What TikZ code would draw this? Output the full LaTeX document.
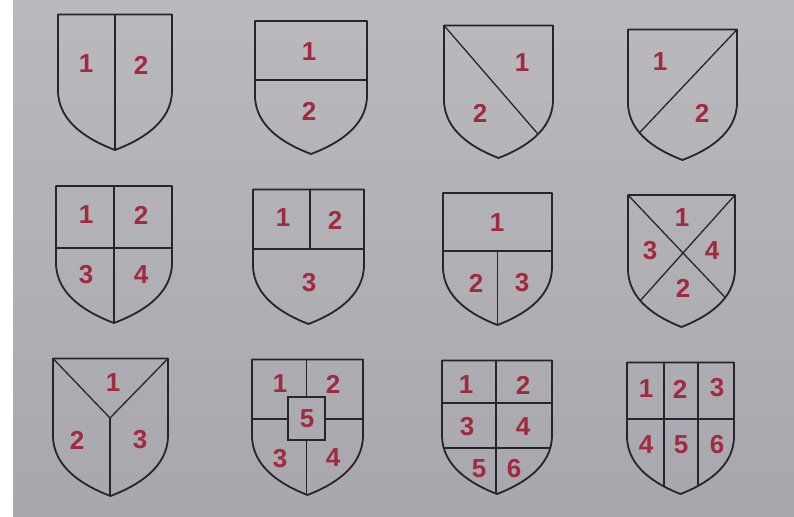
\documentclass[tikz,border=0pt]{standalone}
\usepackage{fontspec}
\setmainfont{Liberation Sans}
\definecolor{numred}{HTML}{A02A3E}
\definecolor{bgtop}{HTML}{BAB9BE}
\definecolor{bgbot}{HTML}{A8A7AD}
\definecolor{ink}{HTML}{262528}
\tikzset{
  shieldpath/.style n args={4}{insert path={
    (#1,#2) -- (#3,#2) -- (#3,{#2+0.56*(#4-#2)})
    .. controls (#3,{#2+0.80*(#4-#2)}) and ({(#1+#3)/2+0.22*(#3-#1)},{#4-0.07*(#4-#2)}) .. ({(#1+#3)/2},#4)
    .. controls ({(#1+#3)/2-0.22*(#3-#1)},{#4-0.07*(#4-#2)}) and (#1,{#2+0.80*(#4-#2)}) .. (#1,{#2+0.56*(#4-#2)})
    -- cycle}},
  outline/.style={draw=ink, line width=1.8pt, line join=round},
  inner/.style={draw=ink, line width=1.3pt},
  digit/.style={font=\fontsize{26}{26}\selectfont\bfseries, text=numred, inner sep=0pt}
}
\begin{document}
\begin{tikzpicture}[x=1pt,y=-1pt]
\useasboundingbox (0,0) rectangle (794,516);
\fill[white] (0,0) rectangle (794,516);
\shade[top color=bgtop, bottom color=bgbot] (13,0) rectangle (794,516);

% 1
\begin{scope}\clip[shieldpath={58}{14.5}{172}{150}];
\draw[inner] (115,0) -- (115,200);
\end{scope}
\path[outline, shieldpath={58}{14.5}{172}{150}];
\node[digit] (s1a) at (86,64) {1};
\node[digit] (s1b) at (141,65) {2};

% 2
\begin{scope}\clip[shieldpath={255}{21}{367}{154}];
\draw[inner] (240,80) -- (380,80);
\end{scope}
\path[outline, shieldpath={255}{21}{367}{154}];
\node[digit] (s2a) at (309,52) {1};
\node[digit] (s2b) at (309,111) {2};

% 3
\begin{scope}\clip[shieldpath={444}{25.5}{553}{158}];
\draw[inner] (444,25.5) -- (565,165.3);
\end{scope}
\path[outline, shieldpath={444}{25.5}{553}{158}];
\node[digit] (s3a) at (522,63) {1};
\node[digit] (s3b) at (480,113) {2};

% 4
\begin{scope}\clip[shieldpath={628}{29.5}{737}{160}];
\draw[inner] (737,29.5) -- (610,164);
\end{scope}
\path[outline, shieldpath={628}{29.5}{737}{160}];
\node[digit] (s4a) at (660,62) {1};
\node[digit] (s4b) at (702,113) {2};

% 5
\begin{scope}\clip[shieldpath={56}{186}{172}{323}];
\draw[inner] (114,180) -- (114,330);
\draw[inner] (40,248) -- (190,248);
\end{scope}
\path[outline, shieldpath={56}{186}{172}{323}];
\node[digit] (s5a) at (86,215) {1};
\node[digit] (s5b) at (141,215) {2};
\node[digit] (s5c) at (86,275) {3};
\node[digit] (s5d) at (141,275) {4};

% 6
\begin{scope}\clip[shieldpath={253}{189.5}{364}{324}];
\draw[inner] (240,249) -- (380,249);
\draw[inner] (310,180) -- (310,249);
\end{scope}
\path[outline, shieldpath={253}{189.5}{364}{324}];
\node[digit] (s6a) at (283,218) {1};
\node[digit] (s6b) at (335,220) {2};
\node[digit] (s6c) at (309,283) {3};

% 7
\begin{scope}\clip[shieldpath={443}{193}{552}{325}];
\draw[inner] (430,251) -- (570,251);
\draw[inner] (497.5,251) -- (497.5,330);
\end{scope}
\path[outline, shieldpath={443}{193}{552}{325}];
\node[digit] (s7a) at (497,223) {1};
\node[digit] (s7b) at (476,283) {2};
\node[digit] (s7c) at (522,283) {3};

% 8
\begin{scope}\clip[shieldpath={628}{195}{735}{327}];
\draw[inner] (628,195) -- (765.5,340);
\draw[inner] (735,195) -- (605,340);
\end{scope}
\path[outline, shieldpath={628}{195}{735}{327}];
\node[digit] (s8a) at (682,218) {1};
\node[digit] (s8b) at (683,288) {2};
\node[digit] (s8c) at (650,251) {3};
\node[digit] (s8d) at (712,251) {4};

% 9
\begin{scope}\clip[shieldpath={53}{358.5}{168}{496}];
\draw[inner, line join=round] (53,358.5) -- (110,418) -- (168,358.5);
\draw[inner] (110,418) -- (110,505);
\end{scope}
\path[outline, shieldpath={53}{358.5}{168}{496}];
\node[digit] (s9a) at (113,383) {1};
\node[digit] (s9b) at (77,440) {2};
\node[digit] (s9c) at (140,440) {3};

% 10
\begin{scope}\clip[shieldpath={252}{359.5}{363}{495}];
\draw[inner] (240,419) -- (288,419);
\draw[inner] (325,419) -- (375,419);
\draw[inner] (306.5,350) -- (306.5,397);
\draw[inner] (306.5,440) -- (306.5,505);
\draw[inner] (288,397) rectangle (325,440);
\end{scope}
\path[outline, shieldpath={252}{359.5}{363}{495}];
\node[digit] (s10a) at (280,384) {1};
\node[digit] (s10b) at (333,384) {2};
\node[digit] (s10c) at (280,459) {3};
\node[digit] (s10d) at (333,458) {4};
\node[digit] (s10e) at (307,419) {5};

% 11
\begin{scope}\clip[shieldpath={442}{360.5}{552}{494}];
\draw[inner] (496,350) -- (496,505);
\draw[inner] (430,403) -- (565,403);
\draw[inner] (430,448) -- (565,448);
\end{scope}
\path[outline, shieldpath={442}{360.5}{552}{494}];
\node[digit] (s11a) at (466,385) {1};
\node[digit] (s11b) at (523,385) {2};
\node[digit] (s11c) at (467,427) {3};
\node[digit] (s11d) at (523,427) {4};
\node[digit] (s11e) at (479,469) {5};
\node[digit] (s11f) at (514,469) {6};

% 12
\begin{scope}\clip[shieldpath={627}{362.5}{734}{494}];
\draw[inner] (615,419) -- (745,419);
\draw[inner] (664,350) -- (664,505);
\draw[inner] (698,350) -- (698,505);
\end{scope}
\path[outline, shieldpath={627}{362.5}{734}{494}];
\node[digit] (s12a) at (646,389) {1};
\node[digit] (s12b) at (680,389) {2};
\node[digit] (s12c) at (717,388) {3};
\node[digit] (s12d) at (646,445) {4};
\node[digit] (s12e) at (681,445) {5};
\node[digit] (s12f) at (717,445) {6};
\end{tikzpicture}
\end{document}
